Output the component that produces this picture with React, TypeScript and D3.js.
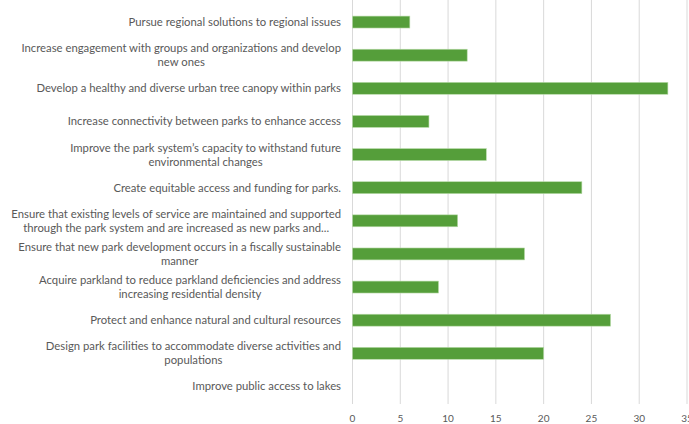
import React, { useEffect, useRef } from "react";
import * as d3 from "d3";

const categories: string[][] = [
  ["Pursue regional solutions to regional issues"],
  ["Increase engagement with  groups and organizations and develop", "new ones"],
  ["Develop a healthy and diverse urban tree canopy within parks"],
  ["Increase connectivity between parks to enhance access"],
  ["Improve the park system\u2019s capacity to withstand future", "environmental changes"],
  ["Create equitable access and funding for parks."],
  ["Ensure that existing levels of service are maintained and supported", "through the park system and are increased as new parks and..."],
  ["Ensure that new park development occurs in a fiscally sustainable", "manner"],
  ["Acquire parkland to reduce parkland deficiencies and address", "increasing residential density"],
  ["Protect and enhance natural and cultural resources"],
  ["Design park facilities to accommodate diverse activities and", "populations"],
  ["Improve public access to lakes"],
];
const values: number[] = [6, 12, 33, 8, 14, 24, 11, 18, 9, 27, 20, 0];
const xTicks: number[] = [0, 5, 10, 15, 20, 25, 30, 35];

const W = 689;
const H = 424;
const FONT = "Lato, 'Open Sans', sans-serif";
const FS = 11.3;

export default function App() {
  const ref = useRef<SVGSVGElement | null>(null);
  useEffect(() => {
    const svg = d3.select(ref.current);
    svg.selectAll("*").remove();
    const x = d3.scaleLinear().domain([0, 35]).range([352.5, 687]);
    const y = d3
      .scaleBand<number>()
      .domain(d3.range(categories.length))
      .range([5.5, 403])
      .paddingInner(0.64)
      .paddingOuter(0.32);

    svg
      .append("g")
      .selectAll("line")
      .data(xTicks)
      .join("line")
      .attr("x1", (d) => x(d))
      .attr("x2", (d) => x(d))
      .attr("y1", 0)
      .attr("y2", 404)
      .attr("stroke", "#d9d9d9")
      .attr("stroke-width", 1);

    svg
      .append("g")
      .selectAll("text")
      .data(xTicks)
      .join("text")
      .attr("x", (d) => x(d))
      .attr("y", 422)
      .attr("text-anchor", "middle")
      .attr("font-family", FONT)
      .attr("font-size", 10)
      .attr("fill", "#595959")
      .text((d) => String(d));

    svg
      .append("g")
      .selectAll("rect")
      .data(values)
      .join("rect")
      .attr("x", x(0))
      .attr("y", (_, i) => y(i)!)
      .attr("width", (d) => x(d) - x(0))
      .attr("height", y.bandwidth())
      .attr("fill", "#559e3a")
      .attr("stroke", "#b8dba9")
      .attr("stroke-width", (d) => (d > 0 ? 0.6 : 0));

    const labelG = svg.append("g");
    const right = 341;
    categories.forEach((lines, i) => {
      const cy = y(i)! + y.bandwidth() / 2;
      const g = labelG.append("g");
      const texts = lines.map((ln, j) =>
        g
          .append("text")
          .attr("y", cy + (j - (lines.length - 1) / 2) * 14)
          .attr("dy", "0.35em")
          .attr("font-family", FONT)
          .attr("font-size", FS)
          .attr("fill", "#595959")
          .attr("text-anchor", "middle")
          .text(ln)
      );
      const widths = texts.map((t) => (t.node() as SVGTextElement).getComputedTextLength());
      const maxW = Math.max(...widths);
      texts.forEach((t) => t.attr("x", right - maxW / 2));
    });
  }, []);
  return (
    <svg
      ref={ref}
      width={W}
      height={H}
      style={{ position: "absolute", left: 0, top: 0, background: "#fff" }}
    />
  );
}
